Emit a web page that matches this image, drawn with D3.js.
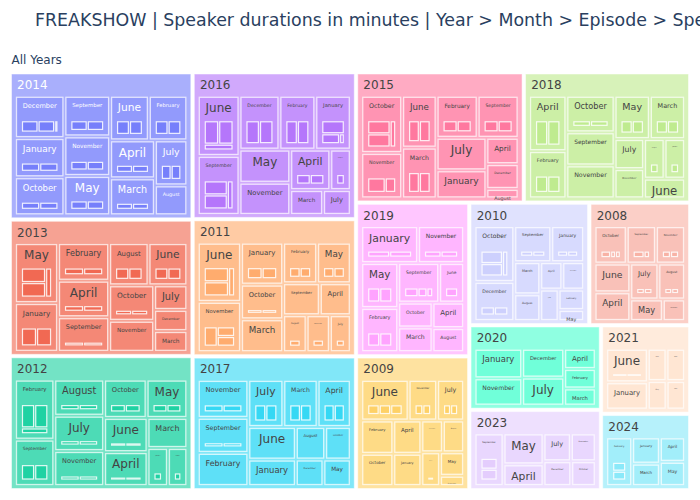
<!DOCTYPE html>
<html><head><meta charset="utf-8">
<script src="https://cdn.jsdelivr.net/npm/d3@7"></script>
<style>body{margin:0;background:#fff}svg{display:block;font-family:"DejaVu Sans",Verdana,sans-serif}</style>
</head><body><svg id="c" width="700" height="500"></svg>
<script>
const titleText = "FREAKSHOW | Speaker durations in minutes | Year > Month > Episode > Speaker";
const rootLabel = "All Years";
const years = ["2014","2013","2012","2016","2011","2017","2015","2018","2019","2009","2010","2008","2020","2023","2021","2024"];
const yearMinutes = [25343,23496,23088,22604,21115,20600,20590,20422,16394,14279,13853,11652,10490,9964,7446,6421];
const colorway = ["#636efa","#EF553B","#00cc96","#ab63fa","#FFA15A","#19d3f3","#FF6692","#B6E880","#FF97FF","#FECB52"];

const months2014 = ["December","January","October","September","November","May","June","February","April","March","July","August"];
const minutes2014 = [1790,1660,1610,1590,1550,1540,1480,1470,1460,1420,1250,830];
const episodes2014 = [[5,5,1],[1,1],[1,1],[1,1],[1,1],[1,1],[1,1],[1,1],[1,1],[1,1],[1,1],[1,1]];

const months2013 = ["May","January","February","April","September","August","June","October","November","July","December","March"];
const minutes2013 = [2158,1755,1607,1560,1478,1391,1369,1334,1167,682,586,576];
const episodes2013 = [[3,3,1.5],[1,1],[1,1],[1,1],[1,1],[1,1],[1,1],[1,1],[1,1],[1,1],[1,1],[1,1]];

const months2012 = ["February","September","August","July","November","October","May","June","April","March","January","December"];
const minutes2012 = [1988,1535,1514,1482,1467,1372,1314,1252,1240,1007,654,620];
const episodes2012 = [[2,2,1],[1,1],[1,1],[1,1],[1,1],[1,1],[1,1],[1,1],[1,1],[1,1],[1],[1]];

const months2016 = ["June","September","December","February","January","May","November","April","August","March","July"];
const minutes2016 = [2090,2050,1790,1610,1590,1400,1360,1350,690,680,574];
const episodes2016 = [[2,2,1],[2,2,1],[1,1],[1,1],[5,3,0.8],[1,1],[1,1],[1,1],[1],[1,1],[1,1]];

const months2011 = ["June","November","January","October","March","February","May","September","April","August","December","July"];
const minutes2011 = [2127,1806,1469,1214,1150,1145,1135,975,823,720,715,641];
const episodes2011 = [[3,3,1.5],[3,2,2],[1,1],[1,1],[1,1],[1,1],[1,1],[1,1],[1,1],[1],[1],[1]];

const months2017 = ["November","September","February","July","March","April","June","January","August","October","December","May"];
const minutes2017 = [1588,1468,1389,1366,1337,1294,1286,1040,792,692,605,600];
const episodes2017 = [[1,1],[1,1],[1,1],[1,1],[1,1],[1,1],[1,1],[1,1],[1,1],[1,1],[1,1],[1,1]];

const months2015 = ["October","November","June","March","February","September","July","January","April","December","August"];
const minutes2015 = [1924,1528,1471,1440,1420,1415,1334,1150,698,657,250];
const episodes2015 = [[3,3,1.5],[5,3],[1,1],[1,1],[1,1],[1,1],[1,1],[1,1],[1,1],[1,1],[1]];

const months2018 = ["April","February","October","September","November","May","March","July","December","August","January","June"];
const minutes2018 = [1677,1433,1430,1296,1290,1240,1235,720,700,660,658,656];
const episodes2018 = [[1,1],[1,1],[1,1],[1,1],[1,1],[1,1],[1,1],[1,1],[1,1],[1],[1],[1,1]];

const months2019 = ["January","November","May","February","September","June","October","March","April","August"];
const minutes2019 = [1722,1395,1365,1340,1332,810,700,695,660,622];
const episodes2019 = [[1,1],[1,1],[1,1],[1,1],[3,2,1.3],[1],[1,1],[1,1],[1,1],[1,1]];

const months2009 = ["June","November","July","February","October","April","January","December","August","March","May","September"];
const minutes2009 = [1550,933,882,859,831,753,729,551,542,507,455,198];
const episodes2009 = [[1,1,1],[1,1],[1,1],[1,1],[1,1],[1,1],[1,1],[1],[1],[1],[1],[1]];

const months2010 = ["October","December","September","January","March","August","April","November","June","February","May"];
const minutes2010 = [1821,1274,1094,971,687,569,497,490,473,427,230];
const episodes2010 = [[3,3,1.5],[1,1],[1,1],[1,1],[1],[1],[1],[1],[1],[1],[1]];

const months2008 = ["October","September","November","June","April","July","August","May","December"];
const minutes2008 = [958,870,865,817,815,802,760,557,380];
const episodes2008 = [[2,1,1],[2,1],[1,1],[1,1],[1,1],[1,1],[1,1],[1],[1]];

const months2020 = ["January","November","December","July","April","February","March"];
const minutes2020 = [1156,1069,996,969,524,506,445];
const episodes2020 = [[1,1],[1,1],[1,1],[1,1],[1,1],[1,1],[1,1]];

const months2023 = ["September","May","April","July","November","December","October"];
const minutes2023 = [1233,1000,700,615,560,555,490];
const episodes2023 = [[1,1],[1],[1],[1],[1],[1],[1]];

const months2021 = ["June","January","February","March","May","April"];
const minutes2021 = [1166,950,505,500,450,440];
const episodes2021 = [[1,1],[1,1],[1],[1],[1],[1]];

const months2024 = ["February","January","March","April","May"];
const minutes2024 = [975,565,480,475,470];
const episodes2024 = [[1,1],[1],[1],[1],[1]];

const monthTable = [months2014,months2013,months2012,months2016,months2011,months2017,months2015,months2018,months2019,months2009,months2010,months2008,months2020,months2023,months2021,months2024];
const minuteTable = [minutes2014,minutes2013,minutes2012,minutes2016,minutes2011,minutes2017,minutes2015,minutes2018,minutes2019,minutes2009,minutes2010,minutes2008,minutes2020,minutes2023,minutes2021,minutes2024];
const episodeTable = [episodes2014,episodes2013,episodes2012,episodes2016,episodes2011,episodes2017,episodes2015,episodes2018,episodes2019,episodes2009,episodes2010,episodes2008,episodes2020,episodes2023,episodes2021,episodes2024];

const svg = d3.select("#c");
const fullColors = colorway.concat(colorway.map(c => { const h = d3.hsl(c); h.l = Math.min(1, h.l + 0.2); return h.formatHex(); }));
const fade = (c, t) => d3.interpolateRgb(c, "#ffffff")(t);
const textColor = c => { const r = d3.rgb(c); return (r.r*299 + r.g*587 + r.b*114)/1000 < 128 ? "#ffffff" : "#444444"; };
const squarify = d3.treemapSquarify.ratio(1);

svg.append("text").attr("x", 35).attr("y", 25.5).attr("font-size", 17.4).attr("fill", "#2a3f5f").text(titleText);
svg.append("text").attr("x", 11.5).attr("y", 64.3).attr("font-size", 12).attr("fill", "#2a3f5f").text(rootLabel);

const X0 = 11.5, Y0 = 74, W = 677, H = 414.5;
const root = d3.hierarchy({children: years.map((y, i) => ({name: y, value: yearMinutes[i], idx: i}))})
  .sum(d => d.value || 0).sort((a, b) => b.value - a.value);
d3.treemap().tile(squarify).size([W, H]).paddingInner(3.5)(root);

root.children.forEach(n => {
  const i = n.data.idx;
  const base = fullColors[i % fullColors.length];
  const tc = textColor(base);
  const w = n.x1 - n.x0, h = n.y1 - n.y0;
  const g = svg.append("g").attr("transform", `translate(${X0 + n.x0},${Y0 + n.y0})`);
  g.append("rect").attr("width", w).attr("height", h).attr("fill", fade(base, 0.45))
    .attr("stroke", "#ffffff").attr("stroke-opacity", 0.5).attr("stroke-width", 1);
  g.append("text").attr("x", 5.6).attr("y", 15.3).attr("font-size", 12).attr("fill", tc).text(n.data.name);

  const names = monthTable[i], vals = minuteTable[i], eps = episodeTable[i];
  const mx = 5, my = 23.3, mw = w - 10, mh = h - my - 4;
  const mroot = d3.hierarchy({children: names.map((m, j) => ({name: m, value: vals[j], eps: eps[j]}))})
    .sum(d => d.value || 0).sort((a, b) => b.value - a.value);
  d3.treemap().tile(squarify).size([mw, mh]).paddingInner(3)(mroot);

  mroot.children.forEach(m => {
    const bw = m.x1 - m.x0, bh = m.y1 - m.y0;
    const mg = g.append("g").attr("transform", `translate(${mx + m.x0},${my + m.y0})`);
    mg.append("rect").attr("width", bw).attr("height", bh).attr("fill", fade(base, 0.3))
      .attr("stroke", "#ffffff").attr("stroke-opacity", 0.7).attr("stroke-width", 1.3);
    const avail = bw - 12.5;
    if (avail > 0) {
      const t = mg.append("text").attr("text-anchor", "middle").attr("x", bw / 2)
        .attr("font-size", 10).attr("fill", tc).text(m.data.name);
      const len = t.node().getComputedTextLength() / 10;
      const fs = Math.min(12, avail / len);
      t.attr("font-size", fs).attr("y", 6 + 0.73 * fs);
    }
    const ex = 6, ey = 24.5, ew = bw - 12, eh = bh - ey - 5.5;
    if (ew > 1 && eh > 0.3) {
      const eroot = d3.hierarchy({children: m.data.eps.map(v => ({value: v}))})
        .sum(d => d.value || 0).sort((a, b) => b.value - a.value);
      d3.treemap().tile(squarify).size([ew, eh]).paddingInner(2.2)(eroot);
      mg.selectAll("rect.ep").data(eroot.children).join("rect").attr("class", "ep")
        .attr("x", d => ex + d.x0).attr("y", d => ey + d.y0)
        .attr("width", d => Math.max(0, d.x1 - d.x0)).attr("height", d => Math.max(0, d.y1 - d.y0))
        .attr("fill", fade(base, 0.12)).attr("stroke", "#ffffff").attr("stroke-opacity", 0.85).attr("stroke-width", 1.2);
    }
  });
});
</script></body></html>
